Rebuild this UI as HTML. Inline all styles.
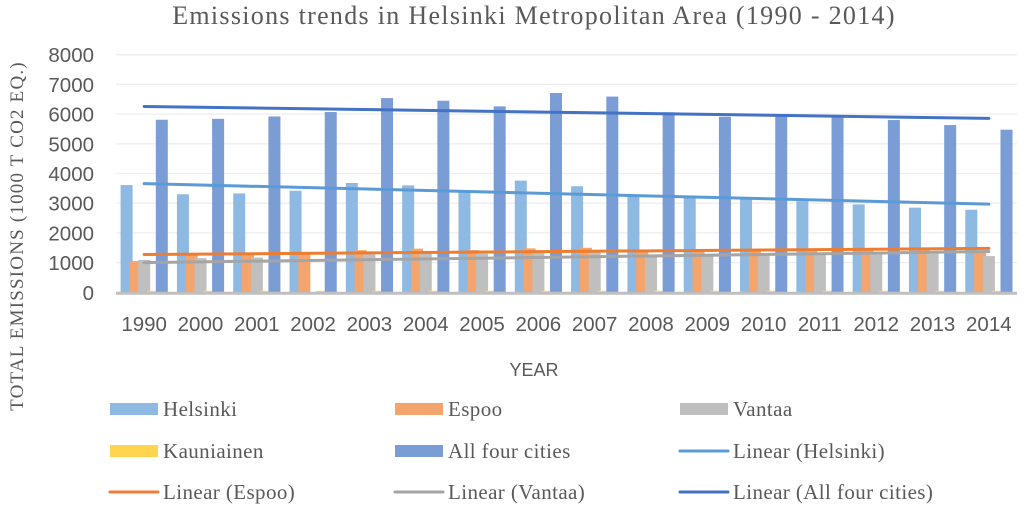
<!DOCTYPE html>
<html><head><meta charset="utf-8"><style>
html,body{margin:0;padding:0;background:#fff;}
svg{display:block;}
</style></head><body>
<svg id="chart" width="1024" height="509" viewBox="0 0 1024 509" xmlns="http://www.w3.org/2000/svg">
<text x="534" y="24" text-anchor="middle" font-family="Liberation Serif, serif" font-size="26" fill="#595959" letter-spacing="1.3">Emissions trends in Helsinki Metropolitan Area (1990 - 2014)</text>
<text transform="translate(23,236) rotate(-90)" text-anchor="middle" font-family="Liberation Serif, serif" font-size="19" fill="#595959" letter-spacing="1.2">TOTAL EMISSIONS (1000 T CO2 EQ.)</text>
<text x="534" y="376" text-anchor="middle" font-family="Liberation Sans, sans-serif" font-size="18" fill="#595959">YEAR</text>
<g id="grid"></g><g id="bars"></g><g id="trends"></g><g id="axes"></g><g id="legend"></g>
</svg>
<script>
const categories=["1990","2000","2001","2002","2003","2004","2005","2006","2007","2008","2009","2010","2011","2012","2013","2014"];
const helsinki=[3610,3300,3330,3420,3680,3600,3400,3760,3570,3260,3220,3200,3070,2960,2850,2780];
const espoo=[1050,1250,1280,1300,1420,1470,1420,1480,1500,1400,1380,1420,1400,1420,1420,1400];
const vantaa=[1090,1150,1170,0,1300,1320,1300,1330,1350,1250,1260,1300,1300,1330,1300,1220];
const kauniainen=[50,50,50,50,50,50,50,50,50,50,50,50,50,50,50,50];
const allFour=[5810,5840,5920,6070,6540,6450,6260,6710,6590,6060,5910,5960,5890,5800,5630,5475];
const yTicks=[0,1000,2000,3000,4000,5000,6000,7000,8000];
const NS="http://www.w3.org/2000/svg";
const X0=116,X1=1017,Y0=292.3,Y8=54.7,YMAX=8000;
const cw=(X1-X0)/categories.length;
function y(v){return Y0-(v/YMAX)*(Y0-Y8);}
function xc(i){return X0+cw*(i+0.5);}
function mk(tag,attrs,parent){const e=document.createElementNS(NS,tag);for(const k in attrs)e.setAttribute(k,attrs[k]);parent.appendChild(e);return e;}
const grid=document.getElementById('grid'),bars=document.getElementById('bars'),trends=document.getElementById('trends'),axes=document.getElementById('axes'),legend=document.getElementById('legend');
yTicks.forEach(t=>{
  if(t>0){const l=mk('line',{x1:X0,x2:X1,y1:y(t),y2:y(t),stroke:'#eeeeee','stroke-width':1.3},grid);
  
  }
  const tx=mk('text',{x:94,y:y(t)+7.5,'text-anchor':'end','font-family':'Liberation Sans, sans-serif','font-size':20.5,fill:'#595959'},axes);
  tx.textContent=t;
  
  
});
const series=[
 {name:'helsinki',data:helsinki,color:'#8db9e2'},
 {name:'espoo',data:espoo,color:'#f4a46d'},
 {name:'vantaa',data:vantaa,color:'#bfbfbf'},
 {name:'kauniainen',data:kauniainen,color:'#ffd44f'},
 {name:'all-four-cities',data:allFour,color:'#7b9dd6'}];
const bw=12,step=8.8,pad=4.6;
series.forEach((s,si)=>{
  s.data.forEach((v,i)=>{
    if(v<=0)return;
    const r=mk('rect',{x:X0+cw*i+pad+si*step,y:y(v),width:bw,height:Y0-y(v),fill:s.color},bars);
    
    
  });
});
function lin(d){const n=d.length;let sx=0,sy=0,sxy=0,sxx=0;d.forEach((v,i)=>{sx+=i;sy+=v;sxy+=i*v;sxx+=i*i;});const b=(n*sxy-sx*sy)/(n*sxx-sx*sx);const a=(sy-b*sx)/n;return[a,a+b*(n-1)];}
const tl=[{name:'helsinki',data:helsinki,color:'#5b9bd5'},{name:'espoo',data:espoo,color:'#ed7d31'},{name:'vantaa',data:vantaa,color:'#a5a5a5'},{name:'all-four-cities',data:allFour,color:'#4472c4'}];
tl.forEach(t=>{const [a,b]=lin(t.data);
  const l=mk('line',{x1:xc(0),x2:xc(categories.length-1),y1:y(a),y2:y(b),stroke:t.color,'stroke-width':3,'stroke-linecap':'round'},trends);
  
  
});
const ax=mk('line',{x1:X0,x2:X1,y1:Y0+1,y2:Y0+1,stroke:'#bfbfbf','stroke-width':3},axes);


categories.forEach((c,i)=>{
  const tx=mk('text',{x:xc(i),y:331,'text-anchor':'middle','font-family':'Liberation Sans, sans-serif','font-size':20.5,fill:'#595959'},axes);
  tx.textContent=c;
  
  
});
const leg=[
 ['Helsinki','#8db9e2','box'],['Espoo','#f4a46d','box'],['Vantaa','#bfbfbf','box'],
 ['Kauniainen','#ffd44f','box'],['All four cities','#7b9dd6','box'],['Linear (Helsinki)','#5b9bd5','line'],
 ['Linear (Espoo)','#ed7d31','line'],['Linear (Vantaa)','#a5a5a5','line'],['Linear (All four cities)','#4472c4','line']];
const colX=[110,395,680],rowY=[409,451,492];
leg.forEach((e,i)=>{
  const cx=colX[i%3],cy=rowY[Math.floor(i/3)];
  const g=mk('g',{},legend);
  
  
  if(e[2]==='box')mk('rect',{x:cx,y:cy-6,width:48,height:12,fill:e[1]},g);
  else mk('line',{x1:cx,x2:cx+48,y1:cy,y2:cy,stroke:e[1],'stroke-width':3,'stroke-linecap':'round'},g);
  const t=mk('text',{x:cx+53,y:cy+7,'font-family':'Liberation Serif, serif','font-size':21,fill:'#595959','letter-spacing':0.4},g);
  t.textContent=e[0];
});
</script>
</body></html>
